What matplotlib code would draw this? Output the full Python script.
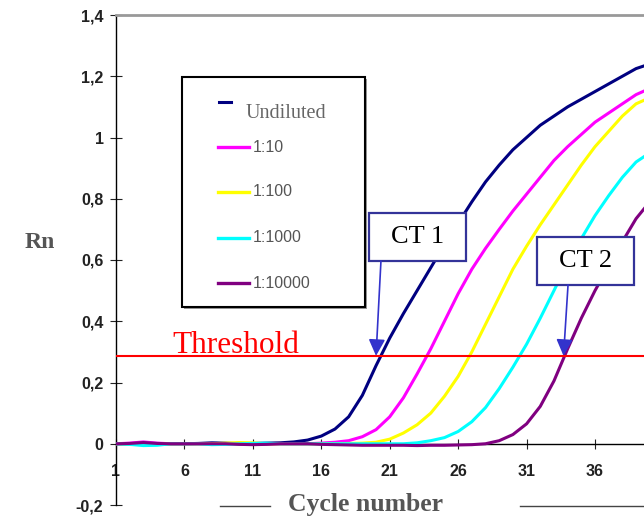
import matplotlib.pyplot as plt
from matplotlib.lines import Line2D
from matplotlib.patches import Rectangle

# amplification curves, one value per cycle
cycles = list(range(1, 41))
undiluted = [0, 0, 0.002, 0, 0, 0, 0.001, 0.003, 0.002, 0, 0.001, 0.002, 0.003, 0.006, 0.012,
             0.025, 0.048, 0.088, 0.158, 0.255, 0.345, 0.425, 0.50, 0.575, 0.65, 0.72, 0.79, 0.855,
             0.91, 0.96, 1.0, 1.04, 1.07, 1.10, 1.125, 1.15, 1.175, 1.20, 1.225, 1.24]
dil_10 = [0, 0.002, 0.006, 0.002, 0, 0, 0, 0, 0, 0.001, 0, 0, 0, 0, 0, 0.002, 0.005, 0.01,
          0.023, 0.046, 0.088, 0.15, 0.228, 0.31, 0.40, 0.49, 0.57, 0.638, 0.70, 0.76, 0.815,
          0.87, 0.925, 0.97, 1.01, 1.05, 1.08, 1.11, 1.14, 1.16]
dil_100 = [0, 0, 0.001, 0, 0, 0, 0, 0, 0.002, 0.004, 0.003, 0, 0, 0, 0, 0, 0, 0.001, 0.002,
           0.005, 0.015, 0.035, 0.062, 0.10, 0.155, 0.22, 0.30, 0.39, 0.48, 0.57, 0.645, 0.715,
           0.78, 0.845, 0.91, 0.97, 1.02, 1.07, 1.11, 1.13]
dil_1000 = [0, -0.002, -0.006, -0.005, 0, 0, 0, -0.003, -0.002, 0, 0.001, 0.002, 0, 0, 0, 0,
            0, 0, 0, 0, 0, 0, 0.003, 0.01, 0.02, 0.04, 0.072, 0.118, 0.18, 0.25, 0.325, 0.41,
            0.50, 0.59, 0.67, 0.745, 0.81, 0.87, 0.92, 0.95]
dil_10000 = [0, 0.001, 0.004, 0.001, 0, 0, 0, 0, 0, -0.002, -0.003, -0.002, 0, 0, 0, -0.002,
             -0.003, -0.004, -0.005, -0.005, -0.005, -0.005, -0.006, -0.005, -0.005, -0.004,
             -0.003, 0.0, 0.01, 0.03, 0.065, 0.122, 0.205, 0.31, 0.41, 0.50, 0.58, 0.66, 0.735, 0.79]

series = [undiluted, dil_10, dil_100, dil_1000, dil_10000]
labels = ["Undiluted", "1:10", "1:100", "1:1000", "1:10000"]
colors = ["#000080", "#ff00ff", "#ffff00", "#00ffff", "#800080"]

threshold = 0.287
ct1 = 20.0
ct2 = 33.7

yticks = [-0.2, 0, 0.2, 0.4, 0.6, 0.8, 1, 1.2, 1.4]
ytick_labels = ["-0,2", "0", "0,2", "0,4", "0,6", "0,8", "1", "1,2", "1,4"]
xticks = [1, 6, 11, 16, 21, 26, 31, 36]

fig = plt.figure(figsize=(6.44, 5.2), dpi=100)
ax = fig.add_axes([116/644, 1-505/520, 1-116/644, 490/520])

for vals, col in zip(series, colors):
    ax.plot(cycles, vals, color=col, lw=2.2, zorder=3)

ax.axhline(threshold, color="red", lw=1.5, zorder=4)
ax.text(5.15, threshold + 0.01, "Threshold", color="red", fontsize=22.5,
        family="Liberation Serif", va="baseline")

ax.set_xlim(1, 39.58)
ax.set_ylim(-0.2, 1.4)

ax.spines["right"].set_visible(False)
ax.spines["bottom"].set_position(("data", 0))
ax.spines["bottom"].set_linewidth(1)
ax.spines["left"].set_linewidth(1)
ax.spines["top"].set_color("#999999")
ax.spines["top"].set_linewidth(2)

ax.set_xticks(xticks)
ax.set_xticklabels([str(t) for t in xticks], family="Liberation Sans", fontsize=11.5,
                   weight="bold")
ax.set_yticks(yticks)
ax.set_yticklabels(ytick_labels, family="Liberation Sans", fontsize=11.5, weight="bold")
ax.tick_params(axis="x", direction="inout", length=7, pad=11, colors="#222222")
ax.tick_params(axis="y", direction="inout", length=8, pad=5, colors="#222222")

# CT boxes with arrows to the threshold crossings
def ct_box(x0, x1, y0, y1, text, start, target):
    ax.add_patch(Rectangle((x0, y0), x1 - x0, y1 - y0, fc="white", ec="#333399",
                           lw=1.6, zorder=5))
    ax.text((x0 + x1) / 2, (y0 + y1) / 2, text, ha="center", va="center", fontsize=19,
            family="Liberation Serif", zorder=6)
    ax.annotate("", xy=target, xytext=start, zorder=6,
                arrowprops=dict(arrowstyle="-|>,head_width=0.5,head_length=1.0",
                                color="#3333cc", lw=1.2, shrinkA=0, shrinkB=0,
                                mutation_scale=10))

ct_box(19.49, 26.57, 0.597, 0.754, "CT 1", (20.36, 0.597), (ct1, threshold))
ct_box(31.76, 38.85, 0.519, 0.676, "CT 2", (34.03, 0.519), (ct2, threshold))

# hand made legend box
lx0, lx1 = (182-116)/528, (365-116)/528
ly0, ly1 = (505-307)/490, (505-77)/490
ax.add_patch(Rectangle((lx0 + 0.004, ly0 - 0.005), lx1 - lx0, ly1 - ly0, transform=ax.transAxes,
                       fc="#999999", ec="none", zorder=6))
ax.add_patch(Rectangle((lx0, ly0), lx1 - lx0, ly1 - ly0, transform=ax.transAxes,
                       fc="white", ec="black", lw=1.5, zorder=7))
rows = [102, 147, 192, 238, 283]
for i, (lab, col) in enumerate(zip(labels, colors)):
    yy = (505 - rows[i]) / 490
    if i == 0:
        ax.plot([(219-116)/528, (231-116)/528], [yy, yy], color=col, lw=2.2,
                transform=ax.transAxes, zorder=8, clip_on=False)
        ax.text((246-116)/528, (505-113)/490, lab, transform=ax.transAxes, fontsize=14.5,
                family="Liberation Serif", color="#666666", va="center", zorder=8)
    else:
        ax.plot([(218-116)/528, (249-116)/528], [yy, yy], color=col, lw=2.4,
                transform=ax.transAxes, zorder=8, clip_on=False)
        ax.text((253-116)/528, yy, lab, transform=ax.transAxes, fontsize=11.5,
                family="Liberation Sans", color="#555555", va="center", zorder=8)

# axis titles
fig.text(40/644, 1-242/520, "Rn", fontsize=17, weight="bold", family="Liberation Serif",
         color="#555555", ha="center", va="center")
fig.text(365/644, 1-505/520, "Cycle number", fontsize=18.5, weight="bold",
         family="Liberation Serif", color="#555555", ha="center", va="center")
fig.add_artist(Line2D([220/644, 270/644], [1-506/520]*2, color="#444444", lw=1))
fig.add_artist(Line2D([520/644, 1.0], [1-506/520]*2, color="#444444", lw=1))

plt.savefig("out.png", dpi=100)
